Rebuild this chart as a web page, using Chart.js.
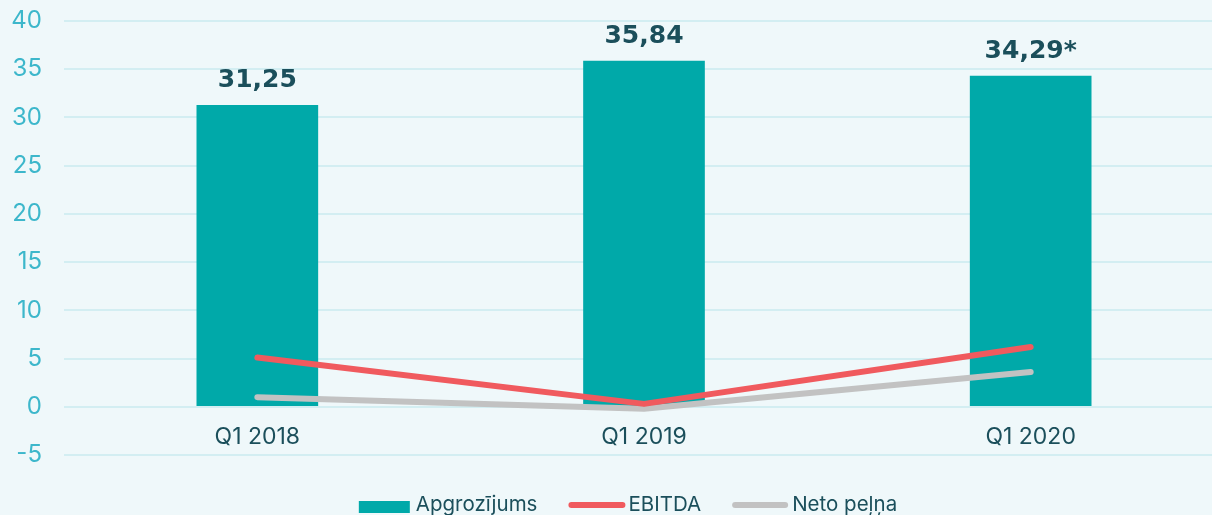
<!DOCTYPE html>
<html>
<head>
<meta charset="utf-8">
<script src="https://cdn.jsdelivr.net/npm/chart.js@4/dist/chart.umd.min.js"></script>
<style>
  html, body { margin: 0; padding: 0; background: #EFF8FA; overflow: hidden; width: 1212px; height: 515px; }
  canvas { display: block; }
</style>
</head>
<body>
<canvas id="c" width="1224" height="515"></canvas>
<script>
const categories = ['Q1 2018', 'Q1 2019', 'Q1 2020'];
const revenue = [31.25, 35.84, 34.29];
const revenueLabels = ['31,25', '35,84', '34,29*'];
const ebitda = [5.1, 0.3, 6.2];
const netProfit = [1.0, -0.2, 3.6];
const seriesNames = ['Apgrozījums', 'EBITDA', 'Neto peļņa'];
const yTicks = { min: -5, max: 40, step: 5 };

const COLORS = { bar: '#00A9A9', ebitda: '#F05A5E', net: '#C2C2C2', dark: '#1B4F5B', tick: '#3DB7CB', grid: '#D3EEF2' };

const barLabelPlugin = {
  id: 'barLabels',
  afterDatasetsDraw(chart) {
    const meta = chart.getDatasetMeta(2);
    const ctx = chart.ctx;
    ctx.save();
    ctx.font = 'bold 25px "DejaVu Sans"';
    ctx.fillStyle = COLORS.dark;
    ctx.textAlign = 'center';
    ctx.textBaseline = 'alphabetic';
    meta.data.forEach((bar, i) => {
      ctx.fillText(revenueLabels[i], bar.x, bar.y - 18);
    });
    ctx.restore();
  }
};

const legendPlugin = {
  id: 'customLegend',
  afterDraw(chart) {
    const ctx = chart.ctx;
    ctx.save();
    ctx.font = '20.5px Inter';
    const gapItem = 31;
    const items = [
      { text: seriesNames[0], type: 'box', color: COLORS.bar, mw: 51, gap: 6 },
      { text: seriesNames[1], type: 'line', color: COLORS.ebitda, mw: 57, gap: 3 },
      { text: seriesNames[2], type: 'line', color: COLORS.net, mw: 56, gap: 4 }
    ];
    let total = 0;
    items.forEach((it, i) => { it.w = ctx.measureText(it.text).width; total += it.mw + it.gap + it.w + (i < items.length - 1 ? gapItem : 0); });
    let x = 628 - total / 2;
    const y = 505;
    items.forEach(it => {
      if (it.type === 'box') {
        ctx.fillStyle = it.color;
        ctx.fillRect(x, y - 4, it.mw, 12);
      } else {
        ctx.strokeStyle = it.color;
        ctx.lineWidth = 6;
        ctx.lineCap = 'round';
        ctx.beginPath();
        ctx.moveTo(x + 3, y);
        ctx.lineTo(x + it.mw - 3, y);
        ctx.stroke();
      }
      ctx.fillStyle = COLORS.dark;
      ctx.textBaseline = 'middle';
      ctx.textAlign = 'left';
      ctx.fillText(it.text, x + it.mw + it.gap, y);
      x += it.mw + it.gap + it.w + gapItem;
    });
    ctx.restore();
  }
};

new Chart(document.getElementById('c'), {
  data: {
    labels: categories,
    datasets: [
      { type: 'line', label: seriesNames[1], data: ebitda, borderColor: COLORS.ebitda, backgroundColor: COLORS.ebitda, borderWidth: 6, borderCapStyle: 'round', borderJoinStyle: 'round', pointRadius: 0, tension: 0, order: 0 },
      { type: 'line', label: seriesNames[2], data: netProfit, borderColor: COLORS.net, backgroundColor: COLORS.net, borderWidth: 6, borderCapStyle: 'round', borderJoinStyle: 'round', pointRadius: 0, tension: 0, order: 1 },
      { type: 'bar', label: seriesNames[0], data: revenue, backgroundColor: COLORS.bar, barThickness: 121, order: 2 }
    ]
  },
  options: {
    responsive: false,
    animation: false,
    devicePixelRatio: 1,
    layout: { padding: { top: 21, bottom: 60, left: 0, right: 0 } },
    plugins: { legend: { display: false }, tooltip: { enabled: false } },
    scales: {
      x: {
        position: { y: 0 },
        grid: { display: false, drawTicks: true, tickLength: 17 },
        border: { display: false },
        ticks: { color: COLORS.dark, font: { family: 'Inter', size: 23 }, padding: 0 }
      },
      y: {
        min: yTicks.min, max: yTicks.max,
        afterFit(scale) { scale.width = 64; },
        grid: { color: COLORS.grid, lineWidth: 2, drawTicks: true, tickLength: 20, tickColor: 'rgba(0,0,0,0)' },
        border: { display: false },
        ticks: { stepSize: yTicks.step, color: COLORS.tick, font: { family: 'Inter', size: 24 }, padding: 2 }
      }
    }
  },
  plugins: [barLabelPlugin, legendPlugin]
});
</script>
</body>
</html>
